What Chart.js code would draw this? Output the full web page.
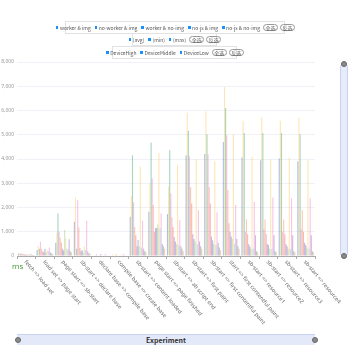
<!DOCTYPE html>
<html>
<head>
<meta charset="utf-8">
<script src="https://cdn.jsdelivr.net/npm/chart.js@4.4.1/dist/chart.umd.min.js"></script>
<style>
  body { margin: 0; background: #fff; font-family: "Noto Sans CJK SC", "Noto Sans", sans-serif; }
  #wrap { position: relative; width: 350px; height: 350px; overflow: hidden; }
  #c { position: absolute; left: 0; top: 0; }
  .lg { position: absolute; border: 1px solid #e2e2e2; background: #fff; display: flex; align-items: center;
        justify-content: center; font-size: 5px; color: #555; box-sizing: border-box; white-space: nowrap; }
  .lg span.it { display: inline-flex; align-items: center; margin: 0 2px; }
  .lg i { display: inline-block; width: 2.5px; height: 3px; background: #1890ff; margin-right: 1.5px; }
  .lg b { font-weight: normal; border: 1px solid #999; border-radius: 4px; padding: 0 1.5px; margin: 0 1px; line-height: 5px; }
  #ms { position: absolute; left: 12px; top: 260px; font-size: 8px; color: #3f9b35; font-family: "Open Sans", sans-serif; }
  #hz { position: absolute; left: 17px; top: 334px; width: 298px; height: 11px; background: #e3e9f9;
        border-top: 1px solid #c9d3ef; box-sizing: border-box; text-align: center; font-size: 7px; font-weight: bold;
        color: #333; line-height: 10px; }
  #vz { position: absolute; left: 340px; top: 63px; width: 8px; height: 194px; background: #e6ecfa;
        border: 1px solid #c9d3ef; border-radius: 4px; box-sizing: border-box; }
  .hd { position: absolute; width: 6px; height: 6px; border-radius: 50%; background: #8a8a8a; border: 1px solid #666; box-sizing: border-box; }
</style>
</head>
<body>
<div id="wrap">
  <canvas id="c" width="350" height="350"></canvas>
  <div class="lg" style="left:65px;top:21px;width:220px;height:13px;">
    <span class="it"><i></i>worker &amp; img</span><span class="it"><i></i>no-worker &amp; img</span>
    <span class="it"><i></i>worker &amp; no-img</span><span class="it"><i></i>no-js &amp; img</span>
    <span class="it"><i></i>no-js &amp; no-img</span><b>全选</b><b>反选</b>
  </div>
  <div class="lg" style="left:132px;top:33px;width:85px;height:13px;">
    <span class="it"><i></i>(avg)</span><span class="it"><i></i>(min)</span><span class="it"><i></i>(max)</span><b>全选</b><b>反选</b>
  </div>
  <div class="lg" style="left:112px;top:46px;width:125px;height:13px;">
    <span class="it"><i></i>DeviceHigh</span><span class="it"><i></i>DeviceMiddle</span><span class="it"><i></i>DeviceLow</span><b>全选</b><b>反选</b>
  </div>
  <div id="ms">ms</div>
  <div id="hz">Experiment</div>
  <div class="hd" style="left:15px;top:337px;"></div>
  <div class="hd" style="left:312px;top:337px;"></div>
  <div id="vz"></div>
  <div class="hd" style="left:341px;top:61px;"></div>
  <div class="hd" style="left:341px;top:253px;"></div>
</div>
<script>
// x 轴分类
var categories = [
  'fetch => load set', 'load set => page start', 'page start => sb-start', 'sb-start => declare base',
  'declare base => compile base', 'compile base => create base', 'sb-start => content loaded',
  'page start => page finished', 'sb-start => ab script end', 'sb-start => first paint',
  'sb-start => first contentful paint', 'start => first contentful paint',
  'sb-start => resource1', 'sb-start => resource2', 'sb-start => resource3', 'sb-start => resource4'
];

// 每个系列的数值 (ms)
var workerImgHigh     = [100, 250, 550, 1410, 0, 0, 1620, 1820, 1730, 4150, 4210, 4700, 4060, 3950, 4020, 3910];
var workerImgHighMax  = [110, 410, 960, 2410, 0, 70, 2470, 2990, 2880, 5910, 5970, 6970, 5580, 5710, 5580, 5700];
var noWorkerImgHigh   = [90, 300, 1750, 300, 0, 0, 4150, 4680, 4360, 5170, 5020, 6100, 5070, 5070, 5070, 5020];
var workerNoImgHigh   = [100, 590, 1000, 2300, 80, 0, 2220, 3200, 2580, 4110, 4200, 4980, 1000, 1100, 1000, 1100];
var noJsImgHigh       = [80, 300, 750, 1180, 0, 80, 1200, 2100, 1600, 2850, 2850, 2720, 1510, 1510, 1510, 1890];
var noJsNoImgHigh     = [70, 200, 560, 330, 0, 0, 860, 1000, 1200, 2160, 2160, 1350, 900, 900, 900, 1000];
var workerImgMiddle   = [60, 150, 300, 200, 0, 0, 400, 1150, 780, 900, 800, 1000, 500, 500, 500, 550];
var noWorkerImgMiddle = [50, 300, 230, 250, 80, 0, 660, 1150, 600, 700, 650, 800, 400, 450, 400, 450];
var workerNoImgMiddle = [60, 150, 1070, 150, 0, 0, 400, 1300, 500, 600, 500, 700, 300, 300, 300, 350];
var noJsImgMiddle     = [80, 250, 720, 400, 0, 70, 3680, 4250, 3740, 3990, 3910, 5020, 4090, 3980, 4050, 3950];
var noJsNoImgMiddle   = [60, 200, 300, 250, 0, 0, 350, 1150, 450, 500, 450, 500, 300, 300, 300, 300];
var workerImgLow      = [90, 350, 260, 1450, 80, 80, 1450, 1750, 1480, 1890, 1800, 2100, 2240, 2410, 2380, 2380];
var noWorkerImgLow    = [50, 150, 690, 200, 0, 0, 300, 500, 400, 600, 550, 700, 860, 860, 860, 860];
var workerNoImgLow    = [40, 100, 200, 100, 0, 0, 200, 400, 300, 400, 350, 400, 200, 200, 200, 200];
var noJsImgLow        = [40, 80, 150, 100, 0, 0, 150, 300, 200, 300, 250, 300, 150, 150, 150, 150];

var seriesNames = [
  'worker & img DeviceHigh', 'worker & img DeviceHigh (max)', 'no-worker & img DeviceHigh',
  'worker & no-img DeviceHigh', 'no-js & img DeviceHigh', 'no-js & no-img DeviceHigh',
  'worker & img DeviceMiddle', 'no-worker & img DeviceMiddle', 'worker & no-img DeviceMiddle',
  'no-js & img DeviceMiddle', 'no-js & no-img DeviceMiddle', 'worker & img DeviceLow',
  'no-worker & img DeviceLow', 'worker & no-img DeviceLow', 'no-js & img DeviceLow'
];
var seriesValues = [
  workerImgHigh, workerImgHighMax, noWorkerImgHigh, workerNoImgHigh, noJsImgHigh, noJsNoImgHigh,
  workerImgMiddle, noWorkerImgMiddle, workerNoImgMiddle, noJsImgMiddle, noJsNoImgMiddle,
  workerImgLow, noWorkerImgLow, workerNoImgLow, noJsImgLow
];

// 颜色
var palette = [
  '84,112,198', '250,200,88', '59,162,114', '234,124,204', '252,132,82', '238,102,102',
  '154,96,180', '84,112,198', '145,204,117', '250,200,88', '115,192,222', '234,124,204',
  '154,96,180', '59,162,114', '252,132,82'
];

var datasets = seriesNames.map(function(name, i) {
  return {
    label: name,
    data: seriesValues[i],
    backgroundColor: 'rgba(' + palette[i] + ',0.45)',
    borderWidth: 0,
    categoryPercentage: 0.9,
    barPercentage: 1.0
  };
});

// 斜着的 x 轴标签
var xLabelPlugin = {
  id: 'xLabels',
  afterDraw: function(chart) {
    var ctx = chart.ctx, xs = chart.scales.x;
    ctx.save();
    ctx.font = '5.5px "Noto Sans"';
    ctx.fillStyle = '#666';
    ctx.textAlign = 'left';
    ctx.textBaseline = 'middle';
    categories.forEach(function(c, i) {
      var x = xs.getPixelForValue(i);
      ctx.save();
      ctx.translate(x - 1, xs.top + 5);
      ctx.rotate(50 * Math.PI / 180);
      ctx.fillText(c, 0, 0);
      ctx.restore();
    });
    ctx.restore();
  }
};

new Chart(document.getElementById('c').getContext('2d'), {
  type: 'bar',
  data: { labels: categories, datasets: datasets },
  options: {
    responsive: false,
    animation: false,
    layout: { padding: { top: 62, right: 35, left: 0, bottom: 0 } },
    plugins: { legend: { display: false }, tooltip: { enabled: false } },
    scales: {
      x: {
        afterFit: function(s) { s.height = 94; },
        ticks: { display: false },
        grid: { drawOnChartArea: false, drawTicks: true, tickLength: 3, color: '#aaa', offset: true },
        border: { color: '#aaa' }
      },
      y: {
        min: 0, max: 8000,
        afterFit: function(s) { s.width = 17; },
        ticks: { stepSize: 1000, font: { size: 5, family: 'Noto Sans' }, color: '#999', padding: 3 },
        grid: { color: '#eef1f6', drawTicks: false },
        border: { display: false }
      }
    }
  },
  plugins: [xLabelPlugin]
});
</script>
</body>
</html>
